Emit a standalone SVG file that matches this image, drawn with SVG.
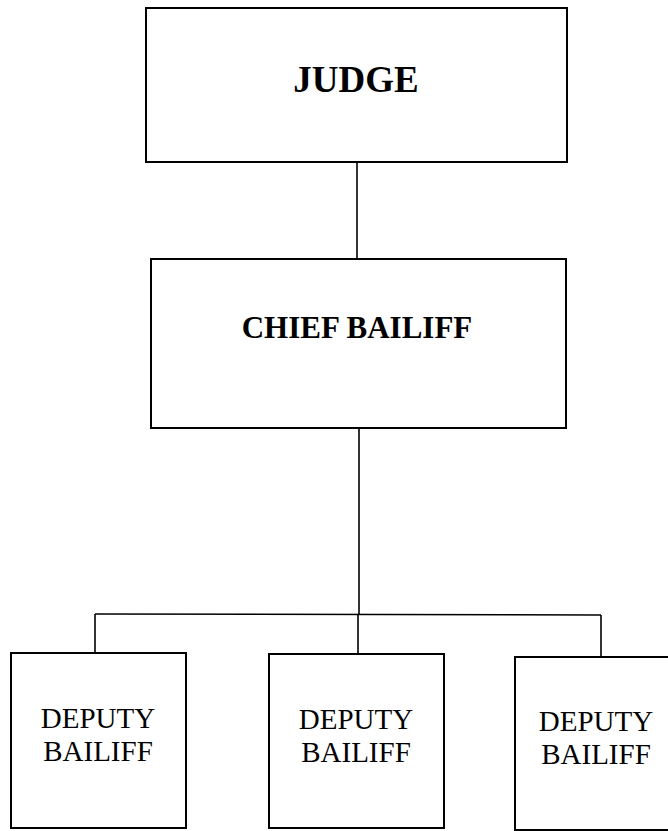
<svg xmlns="http://www.w3.org/2000/svg" width="668" height="831" viewBox="0 0 668 831">
<style>
.box{fill:#fff;stroke:#000;stroke-width:2}
.ln{fill:none;stroke:#000;stroke-width:1.6}
.b{font-family:"Liberation Serif","Times New Roman",serif;font-weight:bold;text-anchor:middle;fill:#000}
.r{font-family:"Liberation Serif","Times New Roman",serif;font-size:29px;text-anchor:middle;fill:#000}
</style>
<rect width="668" height="831" fill="#fff"/>
<g id="connectors">
<line class="ln" x1="357" y1="162" x2="357" y2="259"/>
<line class="ln" x1="359" y1="428" x2="359" y2="615"/>
<line class="ln" x1="95" y1="614" x2="601" y2="615"/>
<line class="ln" x1="95" y1="614" x2="95" y2="653"/>
<line class="ln" x1="358" y1="614" x2="358" y2="654"/>
<line class="ln" x1="601" y1="615" x2="601" y2="657"/>
</g>
<g id="judge">
<rect class="box" x="146" y="8" width="421" height="154"/>
<text class="b" x="356" y="92" font-size="37">JUDGE</text>
</g>
<g id="chief">
<rect class="box" x="151" y="259" width="415" height="169"/>
<text class="b" x="357" y="338" font-size="31">CHIEF BAILIFF</text>
</g>
<g id="deputy1">
<rect class="box" x="11" y="653" width="175" height="175"/>
<text class="r" x="98" y="728">DEPUTY</text>
<text class="r" x="98" y="761">BAILIFF</text>
</g>
<g id="deputy2">
<rect class="box" x="269" y="654" width="175" height="174"/>
<text class="r" x="356" y="729">DEPUTY</text>
<text class="r" x="356" y="762">BAILIFF</text>
</g>
<g id="deputy3">
<rect class="box" x="515" y="657" width="165" height="173"/>
<text class="r" x="596" y="731">DEPUTY</text>
<text class="r" x="596" y="764">BAILIFF</text>
</g>
</svg>
